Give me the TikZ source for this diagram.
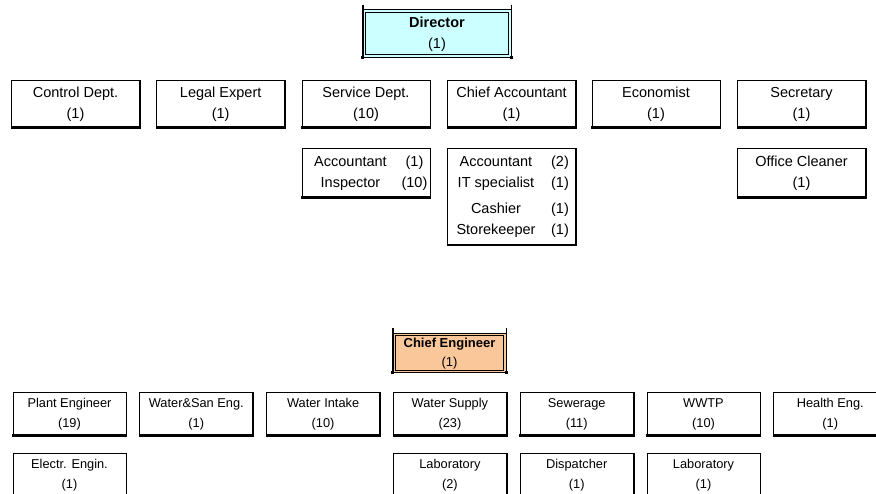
\documentclass[tikz,border=0pt]{standalone}
\usepackage{fontspec}
\setmainfont{Liberation Sans}
\definecolor{dircyan}{HTML}{CCFFFF}
\definecolor{ceorange}{HTML}{FAC79B}
\tikzset{
  box/.style={draw, line width=0.9pt, rectangle, inner sep=0pt,
    minimum width=128pt, minimum height=47pt, align=center,
    font=\fontsize{14.5}{21}\selectfont},
  sbox/.style={box, minimum width=113pt, minimum height=43pt,
    font=\fontsize{12.8}{20}\selectfont},
  listbox/.style={box, align=flush left, text width=128pt},
  headbox/.style={rectangle, inner sep=0pt, align=center},
  frameline/.style={line width=0.8pt},
  shadeline/.style={line width=2.6pt},
  sideline/.style={line width=1.8pt},
  postline/.style={line width=1.4pt}
}
\begin{document}
\begin{tikzpicture}[x=1pt,y=-1pt]
\clip (0,0) rectangle (876,493);
\fill[white] (0,0) rectangle (876,493);

% Director
\node[headbox, fill=dircyan, minimum width=148pt, minimum height=47pt,
  font=\fontsize{14.5}{21}\selectfont] (dir) at (437,33.4)
  {\strut\textbf{Director}\\\strut(1)};

% top row
\node[box] (cd) at (75.5,103.5) {\strut Control Dept.\\\strut(1)};
\node[box] (le) at (220.7,103.5) {\strut Legal Expert\\\strut(1)};
\node[box] (sd) at (366,103.5) {\strut Service Dept.\\\strut(10)};
\node[box] (ca) at (511.5,103.5) {\strut Chief Accountant\\\strut(1)};
\node[box] (ec) at (656,103.5) {\strut Economist\\\strut(1)};
\node[box] (se) at (801.5,103.5) {\strut Secretary\\\strut(1)};

% second row
\node[listbox, minimum height=49pt] (acc) at (366,172.5)
  {\strut\makebox[97pt]{Accountant}\makebox[31pt]{(1)}\\
   \strut\makebox[97pt]{Inspector}\makebox[31pt]{(10)}};
\node[listbox, minimum height=96pt] (acl) at (511.5,196.5)
  {\strut\makebox[97pt]{Accountant}\makebox[31pt]{(2)}\\
   \strut\makebox[97pt]{IT specialist}\makebox[31pt]{(1)}\\[5pt]
   \strut\makebox[97pt]{Cashier}\makebox[31pt]{(1)}\\
   \strut\makebox[97pt]{Storekeeper}\makebox[31pt]{(1)}};
\node[box, minimum height=49pt] (oc) at (801.5,172.5) {\strut Office Cleaner\\\strut(1)};

% Chief Engineer
\node[headbox, fill=ceorange, minimum width=113pt, minimum height=39pt,
  font=\fontsize{13}{19}\selectfont] (ce) at (449.5,352.7)
  {\strut\textbf{Chief Engineer}\\\strut(1)};

% bottom row
\node[sbox] (pe) at (69.5,413.5) {\strut Plant Engineer\\\strut(19)};
\node[sbox] (wse) at (196.3,413.5) {\strut Water\&San Eng.\\\strut(1)};
\node[sbox] (wi) at (323.1,413.5) {\strut Water Intake\\\strut(10)};
\node[sbox] (wsu) at (449.9,413.5) {\strut Water Supply\\\strut(23)};
\node[sbox] (sw) at (576.7,413.5) {\strut Sewerage\\\strut(11)};
\node[sbox] (wwtp) at (703.5,413.5) {\strut WWTP\\\strut(10)};
\node[sbox] (he) at (830.3,413.5) {\strut Health Eng.\\\strut(1)};

% third row
\node[sbox] (ee) at (69.5,474.5) {\strut Electr. Engin.\\\strut(1)};
\node[sbox] (lab1) at (449.9,474.5) {\strut Laboratory\\\strut(2)};
\node[sbox] (dis) at (576.7,474.5) {\strut Dispatcher\\\strut(1)};
\node[sbox] (lab2) at (703.5,474.5) {\strut Laboratory\\\strut(1)};

% shadow edges of the plain boxes
\foreach \n in {cd,le,sd,ca,ec,se,acc,acl,oc,pe,wse,wi,wsu,sw,wwtp,he,ee,lab1,dis,lab2}{
  \draw[sideline] (\n.south east) -- (\n.north east);
  \draw[shadeline] ([xshift=-0.4pt]\n.south west) -- ([xshift=0.9pt]\n.south east);
}

% double frames, posts and corners of the two head boxes
\foreach \n in {dir,ce}{
  \draw[frameline] (\n.north west) rectangle (\n.south east);
  \draw[frameline] ([xshift=2.5pt,yshift=-2.5pt]\n.north west) rectangle
                   ([xshift=-2.5pt,yshift=2.5pt]\n.south east);
  \draw[postline] ([yshift=5pt]\n.north west) -- (\n.south west);
  \draw[postline] ([yshift=5pt]\n.north east) -- (\n.south east);
  \fill ([xshift=-1.5pt,yshift=-1.5pt]\n.south west) rectangle +(3pt,3pt);
  \fill ([xshift=-1.5pt,yshift=-1.5pt]\n.south east) rectangle +(3pt,3pt);
}
\end{tikzpicture}
\end{document}
